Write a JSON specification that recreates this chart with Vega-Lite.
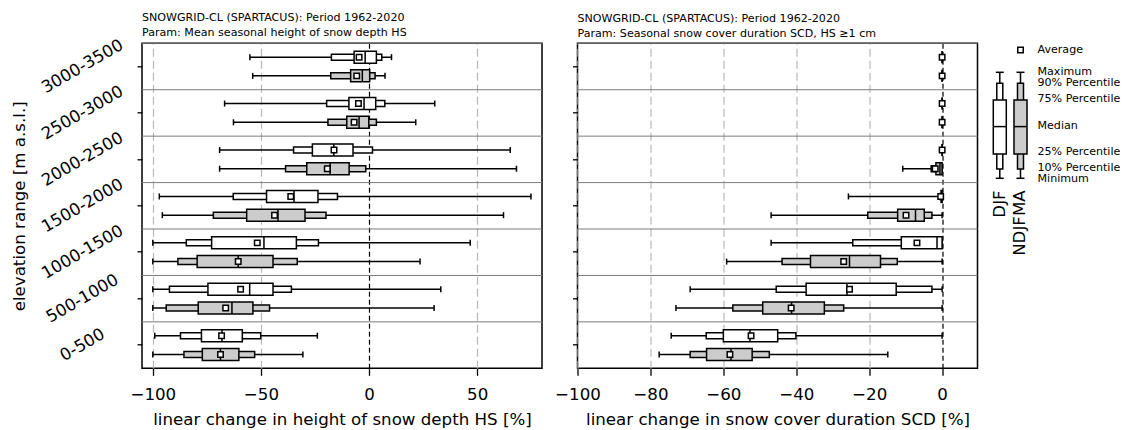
{
  "$schema": "https://vega.github.io/schema/vega-lite/v6.json",
  "padding": {"left": 10, "top": 11.3, "right": 5, "bottom": 2},
  "datasets": {
    "elevs": [
      {"elev": "3000-3500"}, {"elev": "2500-3000"}, {"elev": "2000-2500"}, {"elev": "1500-2000"},
      {"elev": "1000-1500"}, {"elev": "500-1000"}, {"elev": "0-500"}
    ],
    "boxes": [
      {"panel": "HS", "elev": "3000-3500", "season": "DJF", "min": -55.1, "p10": -17.4, "p25": -6.9, "med": -1.8, "p75": 3.4, "p90": 5.9, "max": 10.4, "mean": -4.6},
      {"panel": "HS", "elev": "3000-3500", "season": "NDJFMA", "min": -53.8, "p10": -17.7, "p25": -8.5, "med": -3.1, "p75": 0.3, "p90": 2.8, "max": 7.4, "mean": -5.7},
      {"panel": "HS", "elev": "2500-3000", "season": "DJF", "min": -66.8, "p10": -19.6, "p25": -9.3, "med": -2.3, "p75": 3.1, "p90": 7.3, "max": 30.4, "mean": -4.9},
      {"panel": "HS", "elev": "2500-3000", "season": "NDJFMA", "min": -62.7, "p10": -19.0, "p25": -10.3, "med": -4.6, "p75": -0.1, "p90": 3.4, "max": 21.6, "mean": -6.9},
      {"panel": "HS", "elev": "2000-2500", "season": "DJF", "min": -69.1, "p10": -34.9, "p25": -26.2, "med": -16.3, "p75": -7.4, "p90": 1.6, "max": 65.3, "mean": -16.2},
      {"panel": "HS", "elev": "2000-2500", "season": "NDJFMA", "min": -69.1, "p10": -38.6, "p25": -28.8, "med": -18.0, "p75": -9.2, "p90": -1.5, "max": 68.2, "mean": -19.3},
      {"panel": "HS", "elev": "1500-2000", "season": "DJF", "min": -97.0, "p10": -62.8, "p25": -47.4, "med": -34.7, "p75": -23.6, "p90": -14.6, "max": 74.9, "mean": -36.2},
      {"panel": "HS", "elev": "1500-2000", "season": "NDJFMA", "min": -95.6, "p10": -72.0, "p25": -56.6, "med": -42.1, "p75": -29.6, "p90": -19.9, "max": 62.2, "mean": -43.7},
      {"panel": "HS", "elev": "1000-1500", "season": "DJF", "min": -100, "p10": -84.5, "p25": -72.8, "med": -48.6, "p75": -33.6, "p90": -23.4, "max": 46.8, "mean": -51.7},
      {"panel": "HS", "elev": "1000-1500", "season": "NDJFMA", "min": -100, "p10": -88.4, "p25": -79.5, "med": -60.5, "p75": -44.4, "p90": -33.2, "max": 23.6, "mean": -60.5},
      {"panel": "HS", "elev": "500-1000", "season": "DJF", "min": -100, "p10": -92.3, "p25": -74.5, "med": -55.2, "p75": -44.4, "p90": -35.9, "max": 33.2, "mean": -59.4},
      {"panel": "HS", "elev": "500-1000", "season": "NDJFMA", "min": -100, "p10": -93.8, "p25": -79.0, "med": -63.4, "p75": -53.7, "p90": -46.0, "max": 30.1, "mean": -66.3},
      {"panel": "HS", "elev": "0-500", "season": "DJF", "min": -99.1, "p10": -87.2, "p25": -77.5, "med": -68.0, "p75": -58.6, "p90": -50.1, "max": -23.9, "mean": -68.2},
      {"panel": "HS", "elev": "0-500", "season": "NDJFMA", "min": -100, "p10": -85.6, "p25": -77.1, "med": -68.7, "p75": -60.2, "p90": -52.9, "max": -30.6, "mean": -68.7},
      {"panel": "SCD", "elev": "3000-3500", "season": "DJF", "min": 0, "p10": 0, "p25": 0, "med": 0, "p75": 0, "p90": 0, "max": 0, "mean": 0},
      {"panel": "SCD", "elev": "3000-3500", "season": "NDJFMA", "min": 0, "p10": 0, "p25": 0, "med": 0, "p75": 0, "p90": 0, "max": 0, "mean": 0},
      {"panel": "SCD", "elev": "2500-3000", "season": "DJF", "min": 0, "p10": 0, "p25": 0, "med": 0, "p75": 0, "p90": 0, "max": 0, "mean": 0},
      {"panel": "SCD", "elev": "2500-3000", "season": "NDJFMA", "min": 0, "p10": 0, "p25": 0, "med": 0, "p75": 0, "p90": 0, "max": 0, "mean": 0},
      {"panel": "SCD", "elev": "2000-2500", "season": "DJF", "min": 0, "p10": 0, "p25": 0, "med": 0, "p75": 0, "p90": 0, "max": 0, "mean": 0},
      {"panel": "SCD", "elev": "2000-2500", "season": "NDJFMA", "min": -10.8, "p10": -3.0, "p25": -1.7, "med": -0.6, "p75": 0, "p90": 0, "max": 0, "mean": -1.9},
      {"panel": "SCD", "elev": "1500-2000", "season": "DJF", "min": -25.7, "p10": -0.6, "p25": -0.3, "med": 0, "p75": 0, "p90": 0, "max": 0, "mean": -0.4},
      {"panel": "SCD", "elev": "1500-2000", "season": "NDJFMA", "min": -46.9, "p10": -20.4, "p25": -12.2, "med": -7.3, "p75": -4.9, "p90": -2.8, "max": 0, "mean": -9.9},
      {"panel": "SCD", "elev": "1000-1500", "season": "DJF", "min": -46.9, "p10": -24.5, "p25": -11.2, "med": -1.4, "p75": 0, "p90": 0, "max": 0, "mean": -6.9},
      {"panel": "SCD", "elev": "1000-1500", "season": "NDJFMA", "min": -59.1, "p10": -43.9, "p25": -36.1, "med": -25.4, "p75": -16.9, "p90": -12.3, "max": 0, "mean": -27.0},
      {"panel": "SCD", "elev": "500-1000", "season": "DJF", "min": -69.1, "p10": -45.5, "p25": -37.3, "med": -26.1, "p75": -12.6, "p90": -2.8, "max": 0, "mean": -25.4},
      {"panel": "SCD", "elev": "500-1000", "season": "NDJFMA", "min": -73.0, "p10": -57.4, "p25": -49.2, "med": -41.3, "p75": -32.3, "p90": -27.0, "max": 0, "mean": -41.4},
      {"panel": "SCD", "elev": "0-500", "season": "DJF", "min": -74.3, "p10": -64.7, "p25": -60.0, "med": -52.7, "p75": -45.1, "p90": -40.1, "max": 0, "mean": -52.4},
      {"panel": "SCD", "elev": "0-500", "season": "NDJFMA", "min": -77.6, "p10": -69.1, "p25": -64.6, "med": -57.9, "p75": -52.1, "p90": -47.4, "max": -14.9, "mean": -58.2}
    ],
    "leg": [
      {"season": "DJF", "min": 135, "p10": 125.6, "p25": 110.6, "med": 83.3, "p75": 56.6, "p90": 40, "max": 29},
      {"season": "NDJFMA", "min": 135, "p10": 125.6, "p25": 110.6, "med": 83.3, "p75": 56.6, "p90": 40, "max": 29}
    ],
    "legmean": [{"season": "NDJFMA", "y": 6.6}],
    "leglabels": [
      {"label": "Average", "y": 6.3},
      {"label": "Maximum", "y": 28.5},
      {"label": "90% Percentile", "y": 40},
      {"label": "75% Percentile", "y": 55.6},
      {"label": "Median", "y": 82.3},
      {"label": "25% Percentile", "y": 108.3},
      {"label": "10% Percentile", "y": 124.3},
      {"label": "Minimum", "y": 135.6}
    ]
  },
  "bounds": "flush",
  "spacing": 35.5,
  "hconcat": [
    {
      "width": 400,
      "height": 325,
      "title": {"text": ["SNOWGRID-CL (SPARTACUS): Period 1962-2020", "Param: Mean seasonal height of snow depth HS"], "anchor": "start", "frame": "group", "fontSize": 11.1, "fontWeight": "normal", "color": "black", "offset": -2, "lineHeight": 15},
      "layer": [
        {"data": {"name": "elevs"}, "mark": {"type": "rule", "color": "#7a7a7a", "strokeWidth": 1},
         "encoding": {"y": {"field": "elev", "type": "nominal", "bandPosition": 0, "scale": {"domain": ["3000-3500", "2500-3000", "2000-2500", "1500-2000", "1000-1500", "500-1000", "0-500"], "paddingInner": 0, "paddingOuter": 0}}}},
        {"data": {"name": "boxes"},
         "transform": [{"filter": "datum.panel === 'HS'"}],
         "encoding": {
           "y": {"field": "elev", "type": "nominal", "scale": {"domain": ["3000-3500", "2500-3000", "2000-2500", "1500-2000", "1000-1500", "500-1000", "0-500"], "paddingInner": 0, "paddingOuter": 0},
                 "axis": {"title": "elevation range [m a.s.l.]", "labelAngle": -30, "labelAlign": "center", "labelBaseline": "middle", "labelPadding": 55, "tickSize": 5, "titlePadding": 10, "grid": false}},
           "yOffset": {"field": "season", "type": "nominal", "scale": {"domain": ["DJF", "NDJFMA"], "paddingInner": 0, "paddingOuter": 0.24}}
         },
         "layer": [
           {"mark": {"type": "rule", "color": "black", "strokeWidth": 1.5},
            "encoding": {"x": {"field": "min", "type": "quantitative", "scale": {"domain": [-105, 80], "nice": false, "zero": false},
                               "axis": {"values": [-100, -50, 0, 50], "title": "linear change in height of snow depth HS [%]", "tickSize": 7, "labelPadding": 11, "titlePadding": 9, "labelFlush": false, "format": "d", "grid": true, "gridWidth": 1.2,
                                        "gridColor": {"condition": {"test": "datum.value === 0", "value": "black"}, "value": "#b8b8b8"},
                                        "gridDash": {"condition": {"test": "datum.value === 0", "value": [5, 3]}, "value": [8, 4]}}},
                         "x2": {"field": "max"}}},
           {"mark": {"type": "tick", "color": "black", "thickness": 1.5, "size": 6, "orient": "vertical", "opacity": 1},
            "encoding": {"x": {"field": "min", "type": "quantitative", "scale": {"domain": [-105, 80], "nice": false, "zero": false}}}},
           {"mark": {"type": "tick", "color": "black", "thickness": 1.5, "size": 6, "orient": "vertical", "opacity": 1},
            "encoding": {"x": {"field": "max", "type": "quantitative", "scale": {"domain": [-105, 80], "nice": false, "zero": false}}}},
           {"mark": {"type": "bar", "size": 6, "stroke": "black", "strokeWidth": 1.5, "opacity": 1},
            "encoding": {"x": {"field": "p10", "type": "quantitative", "scale": {"domain": [-105, 80], "nice": false, "zero": false}}, "x2": {"field": "p90"},
                         "fill": {"field": "season", "type": "nominal", "scale": {"domain": ["DJF", "NDJFMA"], "range": ["#ffffff", "#cccccc"]}, "legend": null}}},
           {"mark": {"type": "bar", "size": 12, "stroke": "black", "strokeWidth": 1.5, "opacity": 1},
            "encoding": {"x": {"field": "p25", "type": "quantitative", "scale": {"domain": [-105, 80], "nice": false, "zero": false}}, "x2": {"field": "p75"},
                         "fill": {"field": "season", "type": "nominal", "scale": {"domain": ["DJF", "NDJFMA"], "range": ["#ffffff", "#cccccc"]}, "legend": null}}},
           {"mark": {"type": "tick", "color": "black", "thickness": 1.5, "size": 12, "orient": "vertical", "opacity": 1},
            "encoding": {"x": {"field": "med", "type": "quantitative", "scale": {"domain": [-105, 80], "nice": false, "zero": false}}}},
           {"mark": {"type": "point", "shape": "square", "filled": true, "fill": "white", "stroke": "black", "strokeWidth": 1.5, "size": 30, "opacity": 1},
            "encoding": {"x": {"field": "mean", "type": "quantitative", "scale": {"domain": [-105, 80], "nice": false, "zero": false}}}}
         ]
        }
      ]
    },
    {
      "bounds": "flush",
      "spacing": 10,
      "hconcat": [
        {
          "width": 400,
          "height": 325,
          "title": {"text": ["SNOWGRID-CL (SPARTACUS): Period 1962-2020", "Param: Seasonal snow cover duration SCD, HS ≥1 cm"], "anchor": "start", "frame": "group", "fontSize": 11.1, "fontWeight": "normal", "color": "black", "offset": 4, "lineHeight": 15},
          "layer": [
            {"data": {"name": "elevs"}, "mark": {"type": "rule", "color": "#7a7a7a", "strokeWidth": 1},
             "encoding": {"y": {"field": "elev", "type": "nominal", "bandPosition": 0, "scale": {"domain": ["3000-3500", "2500-3000", "2000-2500", "1500-2000", "1000-1500", "500-1000", "0-500"], "paddingInner": 0, "paddingOuter": 0}}}},
            {"data": {"name": "boxes"},
             "transform": [{"filter": "datum.panel === 'SCD'"}],
             "encoding": {
               "y": {"field": "elev", "type": "nominal", "scale": {"domain": ["3000-3500", "2500-3000", "2000-2500", "1500-2000", "1000-1500", "500-1000", "0-500"], "paddingInner": 0, "paddingOuter": 0},
                     "axis": {"title": null, "labels": false, "tickSize": 5, "grid": false}},
               "yOffset": {"field": "season", "type": "nominal", "scale": {"domain": ["DJF", "NDJFMA"], "paddingInner": 0, "paddingOuter": 0.24}}
             },
             "layer": [
               {"mark": {"type": "rule", "color": "black", "strokeWidth": 1.5},
                "encoding": {"x": {"field": "min", "type": "quantitative", "scale": {"domain": [-100, 9.7], "nice": false, "zero": false},
                                   "axis": {"values": [-100, -80, -60, -40, -20, 0], "title": "linear change in snow cover duration SCD [%]", "tickSize": 7, "labelPadding": 11, "titlePadding": 9, "labelFlush": false, "format": "d", "grid": true, "gridWidth": 1.2,
                                            "gridColor": {"condition": {"test": "datum.value === 0", "value": "black"}, "value": "#b8b8b8"},
                                            "gridDash": {"condition": {"test": "datum.value === 0", "value": [5, 3]}, "value": [8, 4]}}},
                             "x2": {"field": "max"}}},
               {"mark": {"type": "tick", "color": "black", "thickness": 1.5, "size": 6, "orient": "vertical", "opacity": 1},
                "encoding": {"x": {"field": "min", "type": "quantitative", "scale": {"domain": [-100, 9.7], "nice": false, "zero": false}}}},
               {"mark": {"type": "tick", "color": "black", "thickness": 1.5, "size": 6, "orient": "vertical", "opacity": 1},
                "encoding": {"x": {"field": "max", "type": "quantitative", "scale": {"domain": [-100, 9.7], "nice": false, "zero": false}}}},
               {"mark": {"type": "bar", "size": 6, "stroke": "black", "strokeWidth": 1.5, "opacity": 1},
                "encoding": {"x": {"field": "p10", "type": "quantitative", "scale": {"domain": [-100, 9.7], "nice": false, "zero": false}}, "x2": {"field": "p90"},
                             "fill": {"field": "season", "type": "nominal", "scale": {"domain": ["DJF", "NDJFMA"], "range": ["#ffffff", "#cccccc"]}, "legend": null}}},
               {"mark": {"type": "bar", "size": 12, "stroke": "black", "strokeWidth": 1.5, "opacity": 1},
                "encoding": {"x": {"field": "p25", "type": "quantitative", "scale": {"domain": [-100, 9.7], "nice": false, "zero": false}}, "x2": {"field": "p75"},
                             "fill": {"field": "season", "type": "nominal", "scale": {"domain": ["DJF", "NDJFMA"], "range": ["#ffffff", "#cccccc"]}, "legend": null}}},
               {"mark": {"type": "tick", "color": "black", "thickness": 1.5, "size": 12, "orient": "vertical", "opacity": 1},
                "encoding": {"x": {"field": "med", "type": "quantitative", "scale": {"domain": [-100, 9.7], "nice": false, "zero": false}}}},
               {"mark": {"type": "point", "shape": "square", "filled": true, "fill": "white", "stroke": "black", "strokeWidth": 1.5, "size": 30, "opacity": 1},
                "encoding": {"x": {"field": "mean", "type": "quantitative", "scale": {"domain": [-100, 9.7], "nice": false, "zero": false}}}}
             ]
            }
          ]
        },
        {
          "width": 45.3,
          "height": 325,
          "view": {"stroke": null},
          "layer": [
            {"data": {"name": "leg"}, "mark": {"type": "rule", "color": "black", "strokeWidth": 1.5},
             "encoding": {"x": {"field": "season", "type": "nominal", "scale": {"domain": ["DJF", "NDJFMA"], "paddingInner": 0, "paddingOuter": 0.094}, "axis": null},
                          "y": {"field": "min", "type": "quantitative", "scale": {"domain": [0, 325], "reverse": true, "nice": false, "zero": false}, "axis": null},
                          "y2": {"field": "max"}}},
            {"data": {"name": "leg"}, "mark": {"type": "tick", "color": "black", "thickness": 1.5, "size": 8, "orient": "horizontal", "opacity": 1},
             "encoding": {"x": {"field": "season", "type": "nominal", "axis": null}, "y": {"field": "min", "type": "quantitative", "axis": null}}},
            {"data": {"name": "leg"}, "mark": {"type": "tick", "color": "black", "thickness": 1.5, "size": 8, "orient": "horizontal", "opacity": 1},
             "encoding": {"x": {"field": "season", "type": "nominal", "axis": null}, "y": {"field": "max", "type": "quantitative", "axis": null}}},
            {"data": {"name": "leg"}, "mark": {"type": "bar", "size": 6, "stroke": "black", "strokeWidth": 1.5, "opacity": 1},
             "encoding": {"x": {"field": "season", "type": "nominal", "axis": null}, "y": {"field": "p10", "type": "quantitative", "axis": null}, "y2": {"field": "p90"},
                          "fill": {"field": "season", "type": "nominal", "scale": {"domain": ["DJF", "NDJFMA"], "range": ["#ffffff", "#cccccc"]}, "legend": null}}},
            {"data": {"name": "leg"}, "mark": {"type": "bar", "size": 13, "stroke": "black", "strokeWidth": 1.5, "opacity": 1},
             "encoding": {"x": {"field": "season", "type": "nominal", "axis": null}, "y": {"field": "p25", "type": "quantitative", "axis": null}, "y2": {"field": "p75"},
                          "fill": {"field": "season", "type": "nominal", "scale": {"domain": ["DJF", "NDJFMA"], "range": ["#ffffff", "#cccccc"]}, "legend": null}}},
            {"data": {"name": "leg"}, "mark": {"type": "tick", "color": "black", "thickness": 1.5, "size": 13, "orient": "horizontal", "opacity": 1},
             "encoding": {"x": {"field": "season", "type": "nominal", "axis": null}, "y": {"field": "med", "type": "quantitative", "axis": null}}},
            {"data": {"name": "legmean"}, "mark": {"type": "point", "shape": "square", "filled": true, "fill": "white", "stroke": "black", "strokeWidth": 1.5, "size": 30, "opacity": 1},
             "encoding": {"x": {"field": "season", "type": "nominal", "axis": null}, "y": {"field": "y", "type": "quantitative", "axis": null}}},
            {"data": {"name": "leglabels"}, "mark": {"type": "text", "align": "left", "baseline": "middle", "dx": 17, "fontSize": 11.1, "color": "black"},
             "encoding": {"x": {"datum": "NDJFMA", "type": "nominal", "axis": null}, "y": {"field": "y", "type": "quantitative", "axis": null}, "text": {"field": "label"}}},
            {"data": {"name": "leg"}, "mark": {"type": "text", "align": "right", "baseline": "middle", "angle": 270, "fontSize": 16.67, "color": "black"},
             "encoding": {"x": {"field": "season", "type": "nominal", "axis": null}, "y": {"datum": 147, "type": "quantitative", "axis": null}, "text": {"field": "season"}}}
          ]
        }
      ]
    }
  ],
  "config": {
    "font": "DejaVu Sans",
    "view": {"stroke": "black", "strokeWidth": 1.5},
    "axis": {"labelFont": "DejaVu Sans", "titleFont": "DejaVu Sans", "labelFontSize": 16.67, "titleFontSize": 16.67, "labelColor": "black", "titleColor": "black", "titleFontWeight": "normal", "tickColor": "black", "tickWidth": 1.3, "domain": false},
    "title": {"font": "DejaVu Sans"},
    "text": {"font": "DejaVu Sans"}
  }
}
